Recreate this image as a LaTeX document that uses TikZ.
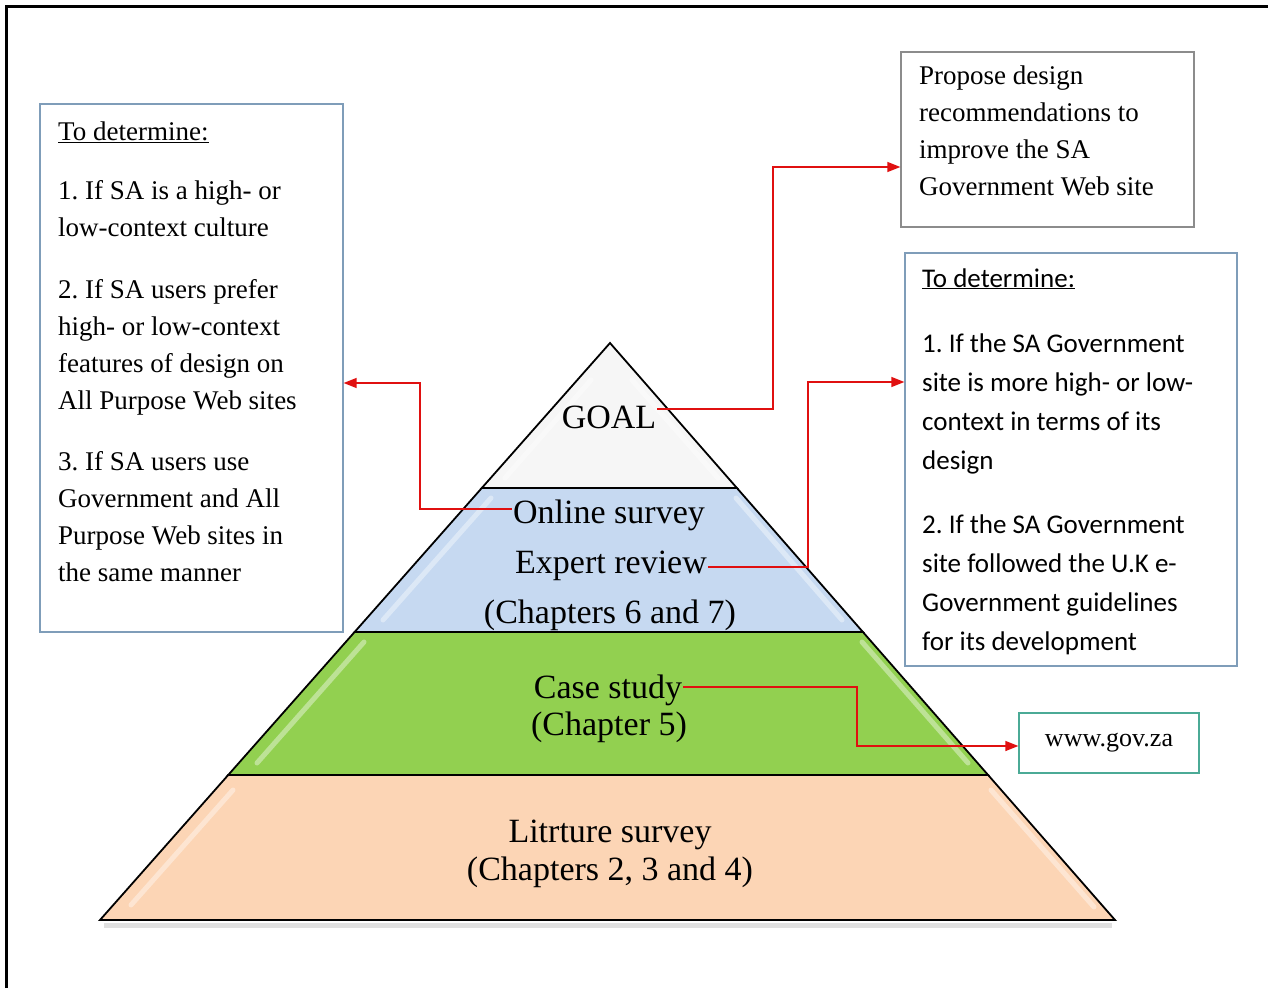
\documentclass[tikz,border=0pt]{standalone}
\usepackage{fontspec}
\setmainfont{Liberation Serif}
\newfontfamily\calibri{Carlito}
\usetikzlibrary{arrows.meta}
\frenchspacing
\definecolor{goalfill}{HTML}{F6F6F6}
\definecolor{bluefill}{HTML}{C6D9F1}
\definecolor{greenfill}{HTML}{92D050}
\definecolor{peachfill}{HTML}{FCD5B5}
\definecolor{connred}{HTML}{E01010}
\definecolor{boxblue}{HTML}{7F9DB9}
\definecolor{boxgrey}{HTML}{8C8C8C}
\definecolor{boxteal}{HTML}{4BAA96}

\begin{document}
\begin{tikzpicture}[x=1pt,y=-1pt,
  layer/.style={draw=black, line width=1.8pt, line join=miter},
  sheen/.style={white, line width=5pt, opacity=0.4, line cap=round},
  lvl/.style={font=\fontsize{34}{40}\selectfont, inner sep=1pt, anchor=base},
  infobox/.style={draw, line width=1.3pt, inner sep=0pt},
  boxtext/.style={font=\fontsize{27}{37}\selectfont, align=left, anchor=base west, inner sep=0pt},
  sanstext/.style={font=\calibri\fontsize{27}{39}\selectfont, align=left, anchor=base west, inner sep=0pt},
  conn/.style={draw=connred, line width=1.4pt, -{Triangle[length=13pt,width=10pt]}},
]
\useasboundingbox (0,0) rectangle (1268,988);

% page frame (top and left rules)
\draw[line width=3pt] (6.5,988) -- (6.5,6.5) -- (1268,6.5);

% pyramid corner points
\coordinate (A)  at (610,343);
\coordinate (L1) at (481.8,488); \coordinate (R1) at (736.9,488);
\coordinate (L2) at (354.6,632); \coordinate (R2) at (862.9,632);
\coordinate (L3) at (228.2,775); \coordinate (R3) at (988.1,775);
\coordinate (L4) at (100,920);   \coordinate (R4) at (1115,920);

% soft shadow under the base
\draw[black, opacity=0.12, line width=5pt] (104,925) -- (1112,925);

% layers
\filldraw[layer, fill=goalfill]  (A) -- (L1) -- (R1) -- cycle;
\filldraw[layer, fill=bluefill]  (L1) -- (L2) -- (R2) -- (R1) -- cycle;
\filldraw[layer, fill=greenfill] (L2) -- (L3) -- (R3) -- (R2) -- cycle;
\filldraw[layer, fill=peachfill] (L3) -- (L4) -- (R4) -- (R3) -- cycle;

% bevel highlights
\draw[sheen] (591,380) -- (505,478);  \draw[sheen] (632,380) -- (718,478);
\draw[sheen] (491,498) -- (383,620);  \draw[sheen] (736,498) -- (842,620);
\draw[sheen] (364,642) -- (257,763);  \draw[sheen] (862,642) -- (968,763);
\draw[sheen] (233,790) -- (131,905);  \draw[sheen] (991,790) -- (1094,907);

% layer labels
\node[lvl] (goal)   at (609,428) {GOAL};
\node[lvl] (online) at (609,523) {Online survey};
\node[lvl] (expert) at (611,573) {Expert review};
\node[lvl] (chsix)  at (610,623) {(Chapters 6 and 7)};
\node[lvl] (case)   at (608,698) {Case study};
\node[lvl] (chfive) at (609,735) {(Chapter 5)};
\node[lvl] (lit)    at (610,842) {Litrture survey};
\node[lvl] (chlit)  at (610,880) {(Chapters 2, 3 and 4)};

% side boxes
\node[infobox, draw=boxblue, minimum width=303pt, minimum height=528pt] (leftbox) at (191.5,368) {};
\node[infobox, draw=boxgrey, minimum width=293pt, minimum height=175pt] (prop) at (1047.5,139.5) {};
\node[infobox, draw=boxblue, minimum width=332pt, minimum height=413pt] (rbox) at (1071,459.5) {};
\node[infobox, draw=boxteal, minimum width=180pt, minimum height=60pt,
      font=\fontsize{26}{30}\selectfont] (www) at (1109,743) {www.gov.za};

% box texts, placed by the baseline of their last line
\node[boxtext] (lefttext) at (58,581) {\underline{To determine:}\\[22pt]
  1. If SA is a high- or\\ low-context culture\\[25pt]
  2. If SA users prefer\\ high- or low-context\\ features of design on\\ All Purpose Web sites\\[24pt]
  3. If SA users use\\ Government and All\\ Purpose Web sites in\\ the same manner};

\node[boxtext] (proptext) at (919,195) {Propose design\\ recommendations to\\ improve the SA\\ Government Web site};

\node[sanstext] (righttext) at (922,650) {\underline{To determine:}\\[26pt]
  1. If the SA Government\\ site is more high- or low-\\ context in terms of its\\ design\\[25pt]
  2. If the SA Government\\ site followed the U.K e-\\ Government guidelines\\ for its development};

% connectors
\draw[conn] (goal.east |- 0,409) -- (773,409) -- (773,167) -- (prop.west |- 0,167);
\draw[conn] (online.west |- 0,509) -- (420,509) -- (420,383) -- (leftbox.east |- 0,383);
\draw[conn] (expert.east |- 0,567) -- (808,567) -- (808,382) -- (rbox.west |- 0,382);
\draw[conn] (case.east |- 0,687) -- (857,687) -- (857,746) -- (www.west |- 0,746);
\end{tikzpicture}
\end{document}
